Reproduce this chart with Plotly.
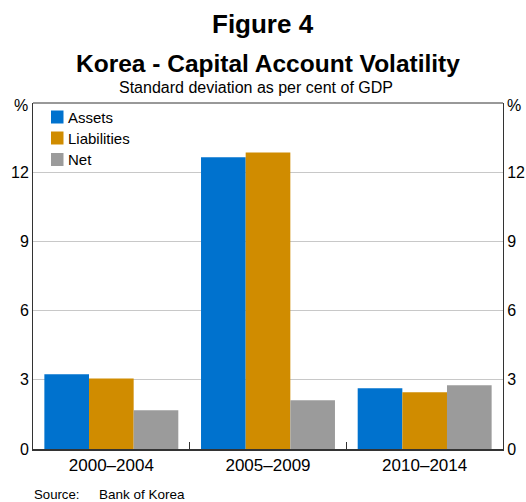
import plotly.graph_objects as go

categories = ["2000–2004", "2005–2009", "2010–2014"]
series_names = ["Assets", "Liabilities", "Net"]
assets = [3.24, 12.65, 2.63]
liabilities = [3.06, 12.85, 2.46]
net = [1.68, 2.11, 2.76]
y_ticks = [0, 3, 6, 9, 12]
colors = ["#0072CE", "#D08C00", "#9B9B9B"]

FONT = "Liberation Sans, Arial, sans-serif"
W, H = 526, 502
L, R, T, B = 33, 23, 103, 53
PW = W - L - R
PH = H - T - B


def px(x):
    return (x - L) / PW


def py(y):
    return (H - B - y) / PH


fig = go.Figure()
for name, vals, col in zip(series_names, [assets, liabilities, net], colors):
    fig.add_trace(go.Bar(name=name, x=categories, y=vals, marker=dict(color=col, line=dict(width=0))))
# invisible trace for right axis
fig.add_trace(go.Scatter(x=categories, y=net, yaxis="y2", mode="markers", marker=dict(opacity=0),
                         showlegend=False, hoverinfo="skip"))

annotations = [
    dict(text="<b>Figure 4</b>", x=px(263), y=py(24), font=dict(size=26)),
    dict(text="<b>Korea - Capital Account Volatility</b>", x=px(268), y=py(63), font=dict(size=24.5)),
    dict(text="Standard deviation as per cent of GDP", x=px(256), y=py(88), font=dict(size=16)),
    dict(text="%", x=px(21), y=py(106), font=dict(size=16)),
    dict(text="%", x=px(514), y=py(106), font=dict(size=16)),
    dict(text="Source:", x=px(32), y=py(494), xanchor="left", font=dict(size=13.2)),
    dict(text="Bank of Korea", x=px(97), y=py(494), xanchor="left", font=dict(size=13.5)),
]
shapes = []
legend_rows = [117, 138, 159.5]
for name, col, yc in zip(series_names, colors, legend_rows):
    shapes.append(dict(type="rect", xref="paper", yref="paper", x0=px(51), x1=px(63.5),
                       y0=py(yc + 6.5), y1=py(yc - 6.5), fillcolor=col, line=dict(width=0)))
    annotations.append(dict(text=name, x=px(66), y=py(yc), xanchor="left", font=dict(size=15)))

for a in annotations:
    a.update(xref="paper", yref="paper", showarrow=False, yanchor="middle")
    a.setdefault("xanchor", "center")

fig.update_layout(
    width=W, height=H,
    margin=dict(l=L, r=R, t=T, b=B, autoexpand=False),
    paper_bgcolor="white", plot_bgcolor="white",
    font=dict(family=FONT, color="black", size=16),
    barmode="group", bargap=0.145, bargroupgap=0,
    showlegend=False,
    xaxis=dict(showline=True, linecolor="#333", linewidth=2, mirror=False, automargin=False,
               ticks="inside", tickson="boundaries", ticklen=7, tickcolor="#333", tickwidth=1,
               tickfont=dict(size=17), showgrid=False),
    yaxis=dict(range=[0, 15], tickvals=y_ticks, showgrid=True, gridcolor="#C8C8C8", gridwidth=1,
               showline=True, linecolor="#333", linewidth=1, ticks="", tickfont=dict(size=16),
               zeroline=False, automargin=False),
    yaxis2=dict(range=[0, 15], tickvals=y_ticks, overlaying="y", side="right", showgrid=False,
                showline=True, linecolor="#333", linewidth=1, ticks="", tickfont=dict(size=16),
                zeroline=False, automargin=False),
    annotations=annotations,
    shapes=shapes + [dict(type="line", xref="paper", yref="paper", x0=0, x1=1, y0=1, y1=1,
                          line=dict(color="#333", width=1))],
)

fig.write_html("out.html", config={"displayModeBar": False},
               post_script="document.body.style.margin='0px';")
